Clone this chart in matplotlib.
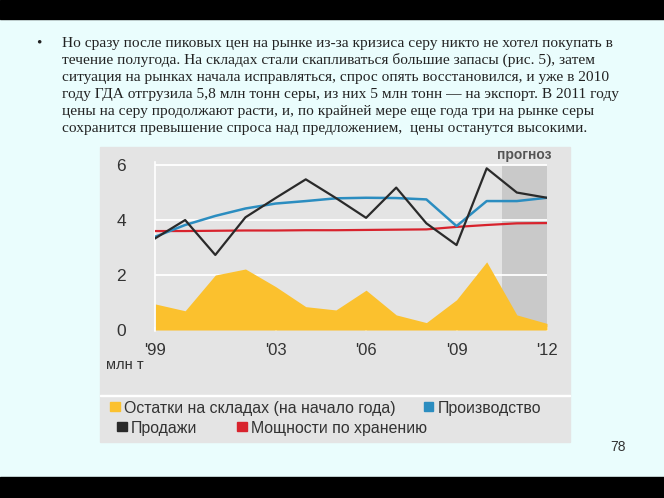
import matplotlib.pyplot as plt
from matplotlib.patches import Rectangle, Patch

W, H = 664, 498

years = list(range(1999, 2013))
stocks = [0.95, 0.7, 2.0, 2.22, 1.58, 0.85, 0.73, 1.45, 0.55, 0.27, 1.1, 2.48, 0.55, 0.24]
production = [3.39, 3.82, 4.15, 4.42, 4.6, 4.69, 4.79, 4.81, 4.8, 4.75, 3.78, 4.69, 4.69, 4.81]
sales = [3.33, 4.0, 2.73, 4.1, 4.8, 5.48, 4.8, 4.08, 5.18, 3.88, 3.09, 5.88, 5.0, 4.81]
capacity = [3.6, 3.6, 3.61, 3.62, 3.62, 3.63, 3.63, 3.64, 3.65, 3.66, 3.75, 3.82, 3.88, 3.89]
xticks = [1999, 2003, 2006, 2009, 2012]
xtick_labels = ["'99", "'03", "'06", "'09", "'12"]
yticks = [0, 2, 4, 6]
forecast_from = 2010.5

text_lines = [
    "Но сразу после пиковых цен на рынке из-за кризиса серу никто не хотел покупать в",
    "течение полугода. На складах стали скапливаться большие запасы (рис. 5), затем",
    "ситуация на рынках начала исправляться, спрос опять восстановился, и уже в 2010",
    "году ГДА отгрузила 5,8 млн тонн серы, из них 5 млн тонн — на экспорт. В 2011 году",
    "цены на серу продолжают расти, и, по крайней мере еще года три на рынке серы",
    "сохранится превышение спроса над предложением,  цены останутся высокими.",
]

C_BG = '#eafdfd'
C_GRAY = '#e4e4e4'
C_FORE = '#c9c9c9'
C_YEL = '#fbc12e'
C_BLUE = '#2b8dc0'
C_BLACK = '#2a2a2a'
C_RED = '#d8232d'
C_TXT = '#333333'
SANS = 'Liberation Sans'


def fx(x):
    return x / W


def fy(y):
    return 1 - y / H


fig = plt.figure(figsize=(W / 100, H / 100), dpi=100, facecolor=C_BG)

# black bars of the slide
fig.patches.append(Rectangle((0, fy(19)), 1, 19 / H, transform=fig.transFigure,
                             color='black', zorder=-2))
fig.patches.append(Rectangle((0, 0), 1, 21 / H, transform=fig.transFigure,
                             color='black', zorder=-2))
# gray chart card + separator
fig.patches.append(Rectangle((fx(100), fy(442)), 470 / W, 295 / H, transform=fig.transFigure,
                             color=C_GRAY, zorder=-2))
fig.patches.append(Rectangle((fx(100), fy(396)), 470 / W, 1.5 / H, transform=fig.transFigure,
                             color='white', zorder=-1))

# bullet text
fig.text(fx(36), fy(43), '•', fontsize=11, family='Liberation Serif', va='center', color='#222')
for i, line in enumerate(text_lines):
    fig.text(fx(62), fy(43 + i * 17.1), line, fontsize=11.1, family='Liberation Serif',
             va='center', color='#222')

# plot area
ax = fig.add_axes([fx(155), fy(331.4), (547 - 155) / W, 169.1 / H])
ax.set_zorder(2)
ax.set_facecolor(C_GRAY)
ax.fill_between([forecast_from, 2012], 0, 6, color=C_FORE, lw=0, zorder=0)
for v in yticks[1:]:
    ax.axhline(v, color='white', lw=1.3, zorder=1)
ax.fill_between(years, 0, stocks, color=C_YEL, lw=0, zorder=2)
ax.plot(years, capacity, color=C_RED, lw=1.6, zorder=3)
ax.plot(years, production, color=C_BLUE, lw=1.8, zorder=4)
ax.plot(years, sales, color=C_BLACK, lw=1.6, zorder=5)
ax.set_xlim(1999, 2012)
ax.set_ylim(-0.05, 6.1)
ax.set_xticks(xticks)
ax.set_xticklabels(xtick_labels)
ax.set_yticks(yticks)
for s in ['top', 'right', 'bottom']:
    ax.spines[s].set_visible(False)
ax.spines['left'].set_color('white')
ax.spines['left'].set_linewidth(1.2)
ax.tick_params(axis='x', length=3, color='white', width=1.3, direction='in', pad=8,
               labelsize=12, labelcolor=C_TXT)
ax.tick_params(axis='y', length=0, pad=21, labelsize=12.5, labelcolor=C_TXT)
for t in ax.get_xticklabels() + ax.get_yticklabels():
    t.set_fontfamily(SANS)

ax.text(2012.15, 6.35, 'прогноз', ha='right', va='center', fontsize=10,
        fontweight='bold', color='#555555', family=SANS)

fig.text(fx(106), fy(365), 'млн т', fontsize=10.5, color=C_TXT, va='center', family=SANS)

# legend rows
row1 = [Patch(color=C_YEL), Patch(color=C_BLUE)]
row2 = [Patch(color=C_BLACK), Patch(color=C_RED)]
common = dict(frameon=False, ncol=2, handlelength=0.6, handleheight=0.5,
              handletextpad=0.3, borderaxespad=0, borderpad=0, labelcolor=C_TXT,
              prop={'family': SANS, 'size': 11.4})
fig.legend(row1, ['Остатки на складах (на начало года)', 'Производство'],
           loc='center left', bbox_to_anchor=(fx(110), fy(408)), columnspacing=1.75, **common)
fig.legend(row2, ['Продажи', 'Мощности по хранению'],
           loc='center left', bbox_to_anchor=(fx(117), fy(428)), columnspacing=2.5, **common)

fig.text(fx(618), fy(447), '78', fontsize=10, color='#333333', va='center', ha='center',
         family=SANS)

fig.savefig('out.png', dpi=100, facecolor=C_BG)
